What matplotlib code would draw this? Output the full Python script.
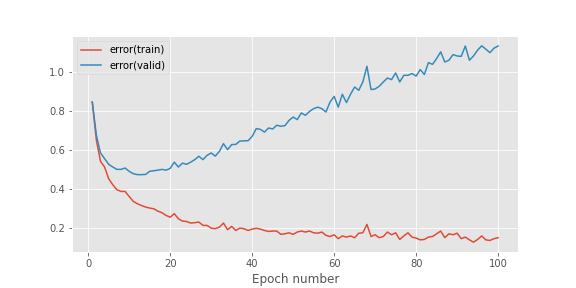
import numpy as np
import matplotlib
matplotlib.use("Agg")
import matplotlib.pyplot as plt

plt.style.use("ggplot")

epochs = np.arange(1, 101)

error_train = [
    0.844, 0.648, 0.540, 0.511, 0.451, 0.420, 0.395, 0.386, 0.386, 0.360,
    0.335, 0.323, 0.314, 0.306, 0.301, 0.297, 0.285, 0.277, 0.263, 0.254,
    0.272, 0.246, 0.234, 0.232, 0.224, 0.226, 0.229, 0.212, 0.212, 0.198,
    0.195, 0.203, 0.224, 0.190, 0.207, 0.186, 0.198, 0.195, 0.186, 0.193,
    0.197, 0.193, 0.186, 0.181, 0.183, 0.183, 0.166, 0.169, 0.174, 0.166,
    0.178, 0.183, 0.178, 0.183, 0.174, 0.172, 0.178, 0.161, 0.155, 0.164,
    0.144, 0.158, 0.152, 0.158, 0.149, 0.172, 0.174, 0.217, 0.155, 0.164,
    0.149, 0.155, 0.178, 0.164, 0.174, 0.140, 0.158, 0.174, 0.152, 0.147,
    0.138, 0.140, 0.152, 0.155, 0.169, 0.183, 0.149, 0.169, 0.164, 0.172,
    0.144, 0.152, 0.138, 0.126, 0.140, 0.158, 0.138, 0.135, 0.144, 0.149,
]

error_valid = [
    0.844, 0.673, 0.583, 0.554, 0.525, 0.511, 0.499, 0.499, 0.506, 0.489,
    0.477, 0.472, 0.472, 0.473, 0.489, 0.492, 0.495, 0.499, 0.495, 0.504,
    0.536, 0.511, 0.531, 0.525, 0.536, 0.549, 0.566, 0.549, 0.571, 0.583,
    0.567, 0.591, 0.631, 0.600, 0.626, 0.627, 0.644, 0.645, 0.646, 0.668,
    0.708, 0.704, 0.690, 0.711, 0.706, 0.725, 0.720, 0.723, 0.750, 0.767,
    0.754, 0.788, 0.776, 0.796, 0.810, 0.818, 0.810, 0.793, 0.844, 0.873,
    0.818, 0.884, 0.841, 0.884, 0.921, 0.904, 0.947, 1.027, 0.908, 0.911,
    0.925, 0.947, 0.967, 0.959, 0.993, 0.947, 0.981, 0.981, 0.990, 0.977,
    1.010, 0.985, 1.046, 1.037, 1.067, 1.101, 1.049, 1.058, 1.087, 1.080,
    1.078, 1.131, 1.058, 1.080, 1.110, 1.132, 1.115, 1.097, 1.120, 1.131,
]

fig = plt.figure(figsize=(8, 4), dpi=72)
ax = fig.add_subplot(1, 1, 1)
fig.subplots_adjust(left=0.125, right=0.9, bottom=0.125, top=0.875)

ax.plot(epochs, error_train, label="error(train)")
ax.plot(epochs, error_valid, label="error(valid)")
ax.legend(loc=0)
ax.set_xlabel("Epoch number")

fig.savefig("out.png", dpi=72)
